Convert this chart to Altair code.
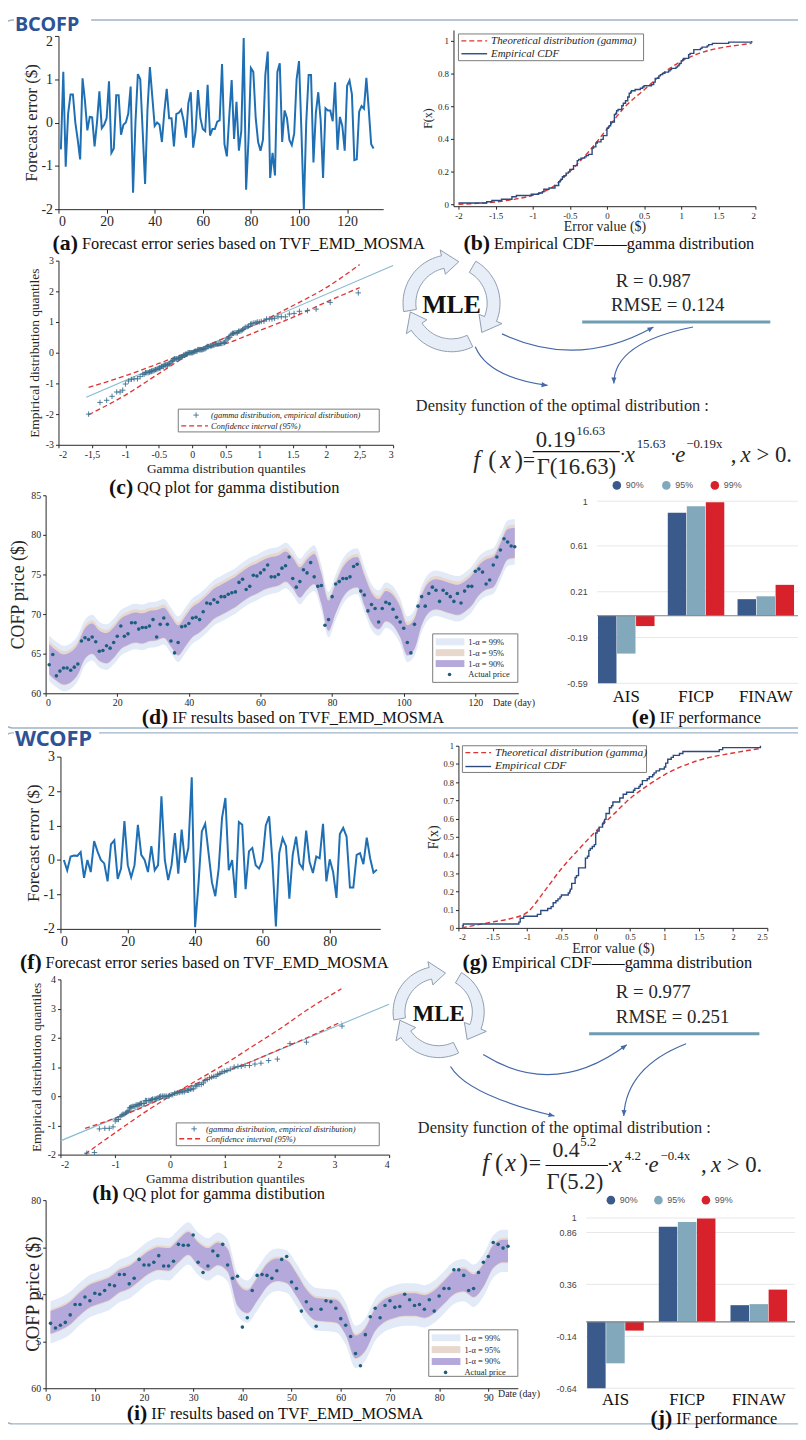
import math
import altair as alt
import pandas as pd

# ---------------------------------------------------------------- data
err_b = [-0.62, 1.17, -1.02, 0.20, 0.65, 0.65, 0.00, -0.40, -0.85, 1.02,
         0.50, -0.18, 0.13, 0.12, -0.55, 0.00, 0.72, -0.13, -0.05, 0.10,
         0.95, -0.70, -0.60, 0.63, 0.63, -0.28, -0.05, 0.00, 0.20, 0.83,
         -1.62, 0.00, 1.12, 1.00, -0.20, -1.42, 0.30, 1.28, 0.60, -0.08,
         0.00, -0.05, -0.45, 0.25, 0.78, 0.10, 0.10, -0.55, 0.20, 0.22,
         0.30, 0.05, -0.35, 0.45, 0.70, -0.58, -0.20, 0.75, 0.10, -0.15,
         -0.20, 0.87, -0.30, -0.15, -0.15, 0.02, 0.05, 1.35, -0.50, -0.78,
         0.15, 0.98, -0.38, 0.48, -0.65, -0.20, 1.95, -1.55, -0.40, 1.26,
         1.17, 0.10, -0.45, -0.65, -0.40, 1.10, 1.64, -1.28, -0.70, -1.22,
         1.17, 1.37, -0.45, 0.28, 0.10, -0.40, -0.52, -0.25, 1.00, 1.42,
         -0.20, -2.00, 0.00, 1.10, 1.10, -0.92, 0.22, 0.70, 0.05, -1.28,
         0.33, 0.28, 0.28, 0.03, 0.93, -0.63, 0.13, -0.08, -0.65, 0.85,
         0.97, 0.65, -0.87, -0.85, 0.25, 0.38, 0.32, 1.03, 0.30, -0.50,
         -0.60]
err_w = [0.00, -0.30, 0.10, 0.13, 0.12, 0.23, -0.52, 0.00, -0.35, 0.55,
         0.25, 0.00, -0.10, -0.62, 0.45, 0.57, -0.55, -0.25, 1.13, -0.15,
         -0.50, -0.15, 1.02, 0.15, 0.00, -0.35, 0.40, -0.30, -0.15, 1.85,
         0.00, -0.58, -0.15, 0.78, -0.40, 0.88, -0.08, 0.35, 2.40, -1.95,
         -0.70, 0.83, 1.05, 0.20, -0.65, -1.05, -0.25, 1.22, 1.80, -0.30,
         0.00, -1.10, 1.10, 1.02, -0.85, 0.25, 0.35, -0.15, -0.25, -0.02,
         1.00, 1.27, -0.10, -1.93, 0.20, 0.63, 0.40, -1.12, 0.15, 0.68,
         -0.10, -0.25, 0.85, -0.05, -0.38, 0.10, 0.05, 1.05, -0.62, 0.02,
         -0.35, -1.10, 0.75, 0.93, 0.68, -0.80, -0.80, 0.15, 0.20, -0.12,
         0.65, 0.05, -0.37, -0.28]

# gamma quantiles (x of the QQ plots), by rank
qq_b = [-1.55, -1.38, -1.28, -1.20, -1.13, -1.08, -1.04, -1.00,
        -0.955, -0.91, -0.87, -0.82, -0.78,
        -0.74, -0.72, -0.70, -0.68, -0.66, -0.64, -0.62, -0.61, -0.59, -0.57, -0.55, -0.53, -0.51, -0.49,
        -0.48, -0.46, -0.45, -0.43, -0.42, -0.40, -0.38, -0.37, -0.35, -0.34, -0.32, -0.30, -0.29, -0.27, -0.26,
        -0.24, -0.23, -0.21, -0.20, -0.19, -0.17, -0.16, -0.145, -0.13, -0.12, -0.105, -0.09, -0.08, -0.065,
        -0.05, -0.04, -0.025, -0.01, 0.00,
        0.015, 0.03, 0.04, 0.055, 0.07, 0.08, 0.095, 0.11, 0.12, 0.135, 0.15, 0.165, 0.175, 0.19, 0.205,
        0.22, 0.23, 0.245,
        0.27, 0.29, 0.31, 0.325, 0.345, 0.365, 0.385, 0.40, 0.42, 0.44, 0.46, 0.48, 0.50,
        0.52, 0.54, 0.56, 0.58, 0.60, 0.615, 0.635, 0.655, 0.675, 0.69, 0.71, 0.73, 0.75,
        0.77, 0.79, 0.82, 0.84, 0.87, 0.89, 0.92, 0.95, 0.97, 1.00,
        1.03, 1.07, 1.11, 1.15, 1.19, 1.23,
        1.28, 1.33, 1.39, 1.45,
        1.52, 1.60, 1.72, 1.85, 2.06, 2.48]
qq_w = [-1.52, -1.38, -1.29, -1.19, -1.11, -1.04, -1.00, -0.97,
        -0.94, -0.91, -0.88, -0.86, -0.84, -0.81, -0.79, -0.77, -0.75,
        -0.74, -0.72, -0.70, -0.68, -0.66, -0.64, -0.62, -0.60, -0.58, -0.56, -0.54, -0.52, -0.49,
        -0.47, -0.45, -0.43, -0.40, -0.38, -0.36, -0.34, -0.32, -0.29, -0.27, -0.25,
        -0.22, -0.19, -0.17, -0.14, -0.11, -0.09, -0.06, -0.03, -0.01,
        0.02, 0.05, 0.08, 0.11, 0.14, 0.17, 0.20, 0.23, 0.26, 0.29, 0.32, 0.34, 0.37, 0.40, 0.43, 0.46, 0.49,
        0.53, 0.57, 0.61, 0.64, 0.68, 0.72, 0.76, 0.80, 0.84, 0.87, 0.91, 0.95, 0.99,
        1.04, 1.10, 1.17, 1.24, 1.30, 1.37, 1.45,
        1.55, 1.66, 1.80, 1.96, 2.19, 2.49, 3.14]

# theoretical (gamma) CDF curves (b) and (g)
cdf_b_x = [-2.0, -1.75, -1.5, -1.25, -1.0, -0.75, -0.5, -0.25, 0.0, 0.25, 0.5, 0.75, 1.0, 1.25, 1.5, 1.75, 1.95]
cdf_b_f = [0.0, 0.005, 0.014, 0.03, 0.055, 0.10, 0.20, 0.32, 0.46, 0.60, 0.70, 0.80, 0.875, 0.925, 0.955, 0.973, 0.985]
cdf_w_x = [-1.95, -1.75, -1.5, -1.25, -1.0, -0.75, -0.5, -0.25, 0.0, 0.25, 0.5, 0.75, 1.0, 1.5, 2.0, 2.4]
cdf_w_f = [0.0, 0.015, 0.033, 0.05, 0.085, 0.20, 0.325, 0.43, 0.53, 0.62, 0.71, 0.78, 0.84, 0.92, 0.96, 0.985]

# QQ reference line and 95% confidence curves
fit_b_x = [-1.585, 3.0]
fit_b_y = [-1.45, 2.84]
ci_b_x = [-1.55, -1.0, -0.5, 0.0, 0.5, 1.0, 1.5, 2.0, 2.5]
ci_b_hi = [-2.02, -1.38, -0.68, 0.0, 0.5, 0.98, 1.53, 2.12, 2.87]
ci_b_lo = [-1.13, -0.75, -0.35, 0.05, 0.3, 0.72, 1.15, 1.65, 2.12]
fit_w_x = [-2.0, 4.0]
fit_w_y = [-1.53, 3.15]
ci_w_x = [-1.55, -1.0, -0.5, 0.0, 0.5, 1.0, 1.5, 2.0, 2.5, 3.13]
ci_w_hi = [-1.98, -1.25, -0.6, 0.0, 0.55, 1.1, 1.7, 2.3, 2.95, 3.68]
ci_w_lo = [-1.1, -0.75, -0.38, 0.05, 0.45, 0.84, 1.2, 1.6, 2.0, 2.55]

# actual prices and interval forecast centres
price_b = [63.6, 64.9, 62.2, 62.8, 63.2, 63.2, 62.9, 63.3, 63.7, 66.6,
           67.0, 66.8, 67.1, 66.5, 65.3, 65.4, 66.0, 65.7, 66.4, 67.2,
           68.5, 67.2, 67.5, 68.9, 68.9, 68.1, 68.3, 68.3, 68.5, 69.3,
           67.1, 68.7, 69.5, 68.7, 66.6, 65.1, 66.4, 68.4, 68.5, 68.8,
           69.5, 69.6, 69.3, 70.3, 71.4, 71.3, 71.8, 71.5, 72.2, 72.2,
           72.5, 72.7, 72.8, 74.0, 74.4, 73.1, 73.5, 74.9, 74.8, 75.2,
           75.6, 76.2, 74.7, 74.7, 75.0, 75.8, 76.1, 77.2, 74.5, 73.4,
           74.1, 75.6, 75.2, 76.5, 74.7, 73.5, 73.6, 68.6, 69.3, 72.2,
           73.8, 74.1, 74.5, 74.5, 74.7, 76.0, 76.3, 72.9, 72.4, 70.4,
           71.2, 70.7, 69.0, 70.7, 71.5, 71.3, 70.6, 69.6, 69.0, 68.2,
           66.4, 65.1, 68.7, 71.0, 72.2, 71.0, 72.6, 73.4, 73.0, 71.6,
           73.0, 72.6, 72.2, 71.6, 72.6, 71.4, 72.9, 73.5, 73.5, 75.4,
           75.7, 75.3, 73.8, 74.3, 76.2, 77.2, 78.1, 79.5, 79.1, 78.6,
           78.5]
band_b_day = [1, 3, 5, 7, 9, 11, 13, 15, 17, 19, 21, 23, 25, 27, 29, 31, 33, 35, 37, 39,
              41, 43, 45, 47, 49, 51, 53, 55, 57, 59, 61, 63, 65, 67, 69, 71, 73, 75, 77, 79,
              81, 83, 85, 87, 89, 91, 93, 95, 97, 99, 101, 103, 105, 107, 109, 111, 113, 115, 117, 119,
              121, 123, 125, 127, 129, 131]
band_b_mid = [64.3, 63.5, 63.0, 63.3, 64.3, 66.3, 66.9, 66.0, 65.7, 66.4,
              67.5, 68.0, 68.3, 68.2, 68.5, 68.6, 68.9, 67.8, 66.7, 67.8,
              69.0, 69.6, 70.4, 71.3, 71.8, 72.3, 72.8, 73.5, 74.1, 74.5,
              75.0, 75.3, 75.5, 76.0, 75.2, 74.0, 75.0, 75.7, 73.2, 69.8,
              72.0, 74.0, 75.0, 75.3, 73.0, 70.8, 70.0, 71.0, 70.5, 69.0,
              66.7, 67.5, 70.5, 72.1, 72.5, 72.3, 72.0, 71.8, 72.2, 73.0,
              74.3, 75.0, 75.3, 77.0, 78.8, 79.0]
band_b_hw = {"99%": (2.75, 3.0), "95%": (2.0, 2.3), "90%": (1.9, 1.9)}

price_w = [66.9, 66.4, 66.7, 67.0, 67.8, 68.9, 68.9, 69.7, 69.3, 70.1,
           70.0, 70.4, 71.0, 70.9, 72.1, 72.1, 71.1, 71.7, 73.7, 73.1,
           73.1, 73.4, 74.1, 73.0, 73.0, 73.5, 75.3, 75.2, 75.2, 76.3,
           73.4, 72.3, 73.0, 74.6, 74.1, 75.3, 73.1, 71.7, 71.9, 66.5,
           67.5, 70.4, 72.0, 72.1, 72.0, 71.7, 72.5, 73.7, 74.0, 71.3,
           70.6, 68.2, 69.2, 68.4, 66.6, 68.4, 69.3, 69.2, 68.5, 67.4,
           66.7, 65.5, 63.7, 62.4, 65.7, 67.6, 68.5, 67.5, 68.8, 69.3,
           68.6, 68.7, 70.0, 69.4, 68.8, 68.9, 68.4, 69.4, 68.2, 69.8,
           70.6, 70.6, 72.6, 72.6, 72.0, 70.4, 70.6, 72.3, 73.4, 74.0,
           75.5, 75.3, 74.9, 75.1]
band_w_day = [1, 3, 5, 7, 9, 11, 13, 15, 17, 19, 21, 23, 25, 27, 29, 31, 33, 35, 37, 39,
              41, 43, 45, 47, 49, 51, 53, 55, 57, 59, 61, 63, 65, 67, 69, 71, 73, 75, 77, 79,
              81, 83, 85, 87, 89, 91, 93, 94]
band_w_mid = [67.0, 67.4, 68.0, 69.0, 69.8, 70.2, 70.6, 71.4, 71.8, 72.6,
              73.4, 73.8, 73.7, 74.6, 75.4, 74.3, 73.7, 74.3, 73.6, 70.0,
              69.2, 70.5, 72.0, 72.6, 72.4, 71.0, 69.3, 68.4, 68.3, 68.2,
              66.9, 64.4, 65.2, 67.3, 68.3, 68.7, 68.9, 68.9, 68.7, 69.2,
              70.2, 71.2, 71.5, 70.9, 72.0, 74.0, 74.6, 74.6]
band_w_hw = {"99%": (2.25, 2.25), "95%": (1.3, 1.4), "90%": (1.2, 1.2)}

# interval forecast performance
metrics = ["AIS", "FICP", "FINAW"]
levels = ["90%", "95%", "99%"]
perf_b = {"90%": [-0.59, 0.90, 0.145], "95%": [-0.33, 0.955, 0.17], "99%": [-0.09, 0.99, 0.27]}
perf_w = {"90%": [-0.64, 0.915, 0.16], "95%": [-0.40, 0.96, 0.17], "99%": [-0.085, 0.995, 0.31]}
ticks_e = [-0.59, -0.19, 0.21, 0.61, 1.0]
ticks_j = [-0.64, -0.14, 0.36, 0.86, 1.0]

# ---------------------------------------------------------------- style
OFF = 8
W, H = 798, 1424
SERIF = "Liberation Serif"
SANS = "Liberation Sans"
INK = "#262626"
MINUS = "\u2212"
DASH = f"replace(format(datum.value, '~g'), '{MINUS}', '-')"
BAR_COLORS = ["#3A5A8C", "#82A8BC", "#D7222B"]
BAND_COLORS = {"99%": "#E2E9F7", "95%": "#E8D7CC", "90%": "#B5A8DB"}
RED = "#DE3434"
PLUS = "M-1,0L1,0M0,-1L0,1"
ONE = pd.DataFrame({"k": [0]})


def P(v):
    return v - OFF


def T(x, y, s, size, style="normal", weight="normal", align="left", color=INK,
      font=SERIF, angle=None, baseline="middle"):
    kw = dict(text=s, fontSize=size, fontStyle=style, fontWeight=weight, align=align,
              color=color, font=font, baseline=baseline)
    if angle is not None:
        kw["angle"] = angle
    return alt.Chart(ONE).mark_text(**kw).encode(x=alt.value(P(x)), y=alt.value(P(y)))


def HL(x1, x2, y, color, width=1.0, dash=None):
    kw = dict(color=color, strokeWidth=width)
    if dash:
        kw["strokeDash"] = dash
    return alt.Chart(ONE).mark_rule(**kw).encode(
        x=alt.value(P(x1)), x2=alt.value(P(x2)), y=alt.value(P(y)))


def RECT(x1, y1, x2, y2, fill="white", fill_opacity=1.0, stroke=None, width=1.0, radius=0):
    kw = dict(fill=fill, fillOpacity=fill_opacity)
    if stroke:
        kw["stroke"] = stroke
        kw["strokeWidth"] = width
    if radius:
        kw["cornerRadius"] = radius
    return alt.Chart(ONE).mark_rect(**kw).encode(
        x=alt.value(P(x1)), x2=alt.value(P(x2)), y=alt.value(P(y1)), y2=alt.value(P(y2)))


def SHAPE(path, fill=None, stroke=None, width=1.0):
    kw = dict(shape=path, size=4, opacity=1, strokeWidth=width)
    if fill:
        kw.update(filled=True, fill=fill)
    else:
        kw.update(filled=False)
    if stroke:
        kw["stroke"] = stroke
    return alt.Chart(ONE).mark_point(**kw).encode(x=alt.value(0), y=alt.value(0))


def DOT(x, y, color, size=60, shape="circle", filled=True, width=1.0):
    return alt.Chart(ONE).mark_point(shape=shape, size=size, filled=filled, color=color,
                                     opacity=1, strokeWidth=width).encode(
        x=alt.value(P(x)), y=alt.value(P(y)))


def path_of(points, close=True):
    s = "M" + "L".join(f"{P(x):.1f},{P(y):.1f}" for x, y in points)
    return s + ("Z" if close else "")


def xs(dom, a, b):
    return alt.Scale(domain=dom, range=[P(a), P(b)], nice=False, zero=False)


def ys(dom, bottom, top):
    return alt.Scale(domain=dom, range=[P(bottom), P(top)], nice=False, zero=False)


def xax(ypos, values, size, title=None, expr=DASH, **kw):
    return alt.Axis(orient="bottom", offset=P(ypos) - H, values=values, labelFontSize=size,
                    labelExpr=expr, title=title, **kw)


def yax(xpos, values, size, title=None, expr=DASH, **kw):
    return alt.Axis(orient="left", offset=-P(xpos), values=values, labelFontSize=size,
                    labelExpr=expr, title=title, **kw)


def frange(a, b, step):
    out, v = [], a
    while v <= b + 1e-9:
        out.append(round(v, 4))
        v += step
    return out


# ---------------------------------------------------------------- panels
def error_panel(err, xdom, x0, x1, ybot, ytop, ydom, yvals, xvals, top_shift=0):
    df = pd.DataFrame({"t": list(range(1, len(err) + 1)), "e": err})
    extra = {}
    if top_shift:
        extra["labelOffset"] = {"condition": {"test": f"datum.value == {ydom[1]}", "value": top_shift},
                                "value": 0}
    return alt.Chart(df).mark_line(color="#1F6FB4", strokeWidth=2).encode(
        x=alt.X("t:Q", scale=xs(xdom, x0, x1),
                axis=xax(ybot, xvals, 14, tickSize=4, labelPadding=2)),
        y=alt.Y("e:Q", scale=ys(ydom, ybot, ytop),
                axis=yax(x0, yvals, 14, title="Forecast error ($)", titleFontSize=17,
                         titlePadding=1, tickSize=4, labelPadding=2, **extra)))


def cdf_panel(err, cx, cf, xdom, x0, x1, ydom, ybot, ytop, xvals, yvals, lab, tsize, ftsize):
    X = alt.X("e:Q", scale=xs(xdom, x0, x1),
              axis=xax(ybot, xvals, lab, title="Error value ($)", titleFontSize=tsize,
                       titlePadding=0, tickSize=3, labelPadding=2))
    Y = alt.Y("F:Q", scale=ys(ydom, ybot, ytop),
              axis=yax(x0, yvals, lab, title="F(x)", titleFontSize=ftsize, titlePadding=3,
                       tickSize=3, labelPadding=2))
    theo = alt.Chart(pd.DataFrame({"e": cx, "F": cf})).mark_line(
        color=RED, strokeDash=[5, 3], strokeWidth=1.4, interpolate="monotone").encode(x=X, y=Y)
    emp = alt.Chart(pd.DataFrame({"e": err})).transform_window(
        F="cume_dist()", sort=[alt.SortField("e")]).mark_line(
        interpolate="step-after", color="#2B4A7E", strokeWidth=1.4).encode(x=X, y=Y)
    return alt.layer(theo, emp)


def qq_panel(err, qx, fx, fy, cix, cihi, cilo, xdom, x0, x1, ydom, ybot, ytop, xvals, yvals, xexpr):
    X = alt.X("q:Q", scale=xs(xdom, x0, x1),
              axis=xax(ybot, xvals, 10, title="Gamma distribution quantiles", expr=xexpr,
                       titleFontSize=13.5, titlePadding=2, tickSize=3, labelPadding=2))
    Y = alt.Y("v:Q", scale=ys(ydom, ybot, ytop),
              axis=yax(x0, yvals, 10, title="Empirical distribution quantiles",
                       titleFontSize=13.5, titlePadding=4, tickSize=3, labelPadding=2))
    pts = alt.Chart(pd.DataFrame({"q": qx, "v": sorted(err)})).mark_point(
        shape=PLUS, size=30, strokeWidth=0.9, color="#3D6F8E", opacity=1).encode(x=X, y=Y)
    fit = alt.Chart(pd.DataFrame({"q": fx, "v": fy})).mark_line(
        color="#86BAD0", strokeWidth=1.1).encode(x=X, y=Y)
    ci = pd.DataFrame({"q": cix + cix, "v": cihi + cilo,
                       "g": ["a"] * len(cix) + ["b"] * len(cix)})
    cil = alt.Chart(ci).mark_line(color=RED, strokeDash=[5, 3], strokeWidth=1.3,
                                  interpolate="monotone").encode(x=X, y=Y, detail="g:N")
    return alt.layer(fit, cil, pts)


def band_panel(price, bday, bmid, hw, xdom, x0, x1, ydom, ybot, ytop, xvals, yvals, ytitle, yexpr):
    X = alt.X("t:Q", scale=xs(xdom, x0, x1),
              axis=xax(ybot, xvals, 10, tickSize=3, labelPadding=1))
    ax = yax(x0, yvals, 10, title=ytitle, expr=yexpr, titleFontSize=18, titlePadding=3,
             tickSize=3, labelPadding=2)
    bands = []
    dfb = pd.DataFrame({"t": bday, "c": bmid})
    for lvl in ["99%", "95%", "90%"]:
        lo, hi = hw[lvl]
        bands.append(alt.Chart(dfb).transform_calculate(
            lo=f"datum.c - {lo}", hi=f"datum.c + {hi}").mark_area(
            color=BAND_COLORS[lvl], opacity=1, interpolate="monotone").encode(
            x=X, y=alt.Y("lo:Q", scale=ys(ydom, ybot, ytop), axis=ax), y2="hi:Q"))
    pts = alt.Chart(pd.DataFrame({"t": list(range(1, len(price) + 1)), "lo": price})).mark_circle(
        size=13, color="#1B5E7E", opacity=1).encode(
        x=X, y=alt.Y("lo:Q", scale=ys(ydom, ybot, ytop), axis=ax))
    return alt.layer(*bands, pts)


def bar_panel(perf, ticks, xa, xb, pin, gx0, gx1, ydom, ybot, ytop, labpad):
    rows = [{"m": m, "lvl": l, "v": perf[l][i]} for l in levels for i, m in enumerate(metrics)]
    Y = alt.Y("v:Q", scale=ys(ydom, ybot, ytop),
              axis=yax(gx0, ticks, 9, labelFont=SANS, domain=False, ticks=False, labelPadding=10,
                       labelColor="#444444",
                       expr=f"replace(format(datum.value, '.2~f'), '{MINUS}', '-')"))
    grid = alt.Chart(pd.DataFrame({"v": ticks})).mark_rule(color="#E8E8E8", strokeWidth=1).encode(
        y=Y, x=alt.value(P(gx0)), x2=alt.value(P(gx1)))
    bars = alt.Chart(pd.DataFrame(rows)).mark_bar().encode(
        x=alt.X("m:N", sort=metrics,
                scale=alt.Scale(domain=metrics, range=[P(xa), P(xb)], paddingInner=pin, paddingOuter=0),
                axis=alt.Axis(orient="bottom", offset=P(ybot) - H, title=None, domain=False,
                              ticks=False, labelFontSize=17, labelPadding=labpad, labelAngle=0,
                              labelColor="#111111")),
        xOffset=alt.XOffset("lvl:N", sort=levels, scale=alt.Scale(domain=levels, paddingInner=0.03)),
        y=Y, y2=alt.datum(0),
        color=alt.Color("lvl:N", scale=alt.Scale(domain=levels, range=BAR_COLORS), legend=None))
    zero = alt.Chart(ONE).mark_rule(color="#808080", strokeWidth=1.2).encode(
        y=alt.datum(0), x=alt.value(P(gx0)), x2=alt.value(P(gx1)))
    return alt.layer(grid, bars, zero)


# ---------------------------------------------------------------- decorations
def ring_arrow(cx, cy, R, r, a0, a1, tip):
    m = (R + r) / 2.0

    def pt(rad, ang):
        t = math.radians(ang)
        return (cx + rad * math.cos(t), cy - rad * math.sin(t))
    n = 24
    outer = [pt(R, a0 + (a1 - a0) * i / n) for i in range(n + 1)]
    head = [pt(R + 6, a1), pt(m, tip), pt(r - 6, a1)]
    inner = [pt(r, a1 + (a0 - a1) * i / n) for i in range(n + 1)]
    return path_of(outer + head + inner)


def curve_and_head(p0, c, p2, color="#4468A8"):
    cpath = f"M{P(p0[0]):.1f},{P(p0[1]):.1f}Q{P(c[0]):.1f},{P(c[1]):.1f} {P(p2[0]):.1f},{P(p2[1]):.1f}"
    dx, dy = p2[0] - c[0], p2[1] - c[1]
    n = math.hypot(dx, dy)
    ux, uy = dx / n, dy / n
    bx, by = p2[0] - 6 * ux, p2[1] - 6 * uy
    hp = path_of([p2, (bx - 2.6 * uy, by + 2.6 * ux), (bx + 2.6 * uy, by - 2.6 * ux)])
    return [SHAPE(cpath, stroke=color, width=1.2), SHAPE(hp, fill=color)]


def mle(cx, cy, R, r, fs):
    out = []
    for a0, a1, tip in [(190, 102, 80), (60, -22, -44), (-64, -146, -168)]:
        out.append(SHAPE(ring_arrow(cx, cy, R, r, a0, a1, tip), fill="#E7EEF8",
                         stroke="#8E9DAF", width=1))
    out.append(T(cx, cy + 2, "MLE", fs, weight="bold", align="center", color="#111111"))
    return out


def caption(x, y, letter, rest):
    wmap = {"a": .5, "b": .556, "c": .444, "d": .556, "e": .444, "f": .333,
            "g": .5, "h": .556, "i": .278, "j": .333}
    bw = (0.666 + wmap[letter]) * 22
    return [T(x, y, f"({letter})", 22, weight="bold", color="#111111"),
            T(x + bw + 4, y + 1, rest, 16.5, color="#111111")]


bar_legend = lambda xs_, y: sum([[DOT(x, y, c, size=75), T(x + 9, y, l, 9, font=SANS, color="#555555")]
                                 for x, c, l in zip(xs_, BAR_COLORS, levels)], [])

layers = []
# section frames and titles
layers += [RECT(1, 13, W + 30, 728, fill="white", fill_opacity=0, stroke="#9FB4C6", width=1.5, radius=12),
           RECT(1, 733, W + 30, 1431, fill="white", fill_opacity=0, stroke="#9FB4C6", width=1.5, radius=12),
           RECT(14, 8, 92, 26), RECT(14, 729, 100, 751),
           T(15, 18, "BCOFP", 20, weight="bold", font="Noto Sans", color="#2E5395"),
           T(15, 739, "WCOFP", 22, weight="bold", font="Noto Sans", color="#2E5395")]

# ---- BCOFP
layers.append(error_panel(err_b, [0, 135], 59, 387, 204, 29, [-2, 2], [-2, -1, 0, 1, 2], frange(0, 120, 20),
                          top_shift=6))
layers.append(cdf_panel(err_b, cdf_b_x, cdf_b_f, [-2.067, 2.0], 458, 763, [-0.012, 1.067], 201, 23,
                        frange(-2, 2, 0.5), frange(0, 1, 0.2), 9, 14, 12))
layers.append(qq_panel(err_b, qq_b, fit_b_x, fit_b_y, ci_b_x, ci_b_hi, ci_b_lo, [-2, 3], 59, 397,
                       [-3, 3], 442, 256, frange(-2, 3, 0.5), frange(-3, 3, 1),
                       f"datum.value == -1.5 ? '-1,5' : datum.value == 2.5 ? '2,5' : {DASH}"))
layers.append(band_panel(price_b, band_b_day, band_b_mid, band_b_hw, [0, 132], 46, 523.5, [60, 85], 693, 493,
                         frange(0, 120, 20), frange(60, 85, 5), "COFP price ($)", DASH))
layers.append(bar_panel(perf_b, ticks_e, 604, 802, 0.19, 603, 806, [-0.59, 1.0], 683, 499, 5))

# ---- WCOFP
layers.append(error_panel(err_w, [0, 95], 61, 384, 931, 757, [-2, 3], [-2, -1, 0, 1, 2, 3], frange(0, 80, 20)))
layers.append(cdf_panel(err_w, cdf_w_x, cdf_w_f, [-2.0, 2.5], 463, 775, [0, 1], 930, 746,
                        frange(-2, 2.5, 0.5), frange(0, 1, 0.1), 8.5, 14, 14))
layers.append(qq_panel(err_w, qq_w, fit_w_x, fit_w_y, ci_w_x, ci_w_hi, ci_w_lo, [-2, 4], 61, 393,
                       [-2, 4], 1159, 982, frange(-2, 4, 1), frange(-2, 4, 1), DASH))
layers.append(band_panel(price_w, band_w_day, band_w_mid, band_w_hw, [0, 96], 46, 523, [60, 80], 1395, 1205,
                         frange(0, 90, 10), frange(60, 80, 5), None,
                         "datum.value == 60 || datum.value == 80 ? format(datum.value, '~g') : "
                         "slice(format(datum.value, '~g'), 1)"))
layers.append(bar_panel(perf_w, ticks_j, 593, 795, 0.21, 592, 803, [-0.64, 1.0], 1395, 1223, 3))

# ---- in-plot legends
for (bx0, by0, bx1, by1, lx, ty1, ty2, fs) in [(463, 27, 650, 54, 466, 34, 47, 11),
                                                (467, 746, 653, 773, 470, 753, 767, 11.5)]:
    layers += [RECT(bx0, by0, bx1, by1, stroke="#7A7A7A", width=1),
               HL(lx, lx + 26, ty1, RED, 1.4, [5, 3]), HL(lx, lx + 26, ty2, "#2B4A7E", 1.4),
               T(lx + 30, ty1, "Theoretical distribution (gamma)", fs, style="italic"),
               T(lx + 30, ty2, "Empirical CDF", fs, style="italic")]
for (bx0, by0, bx1, by1, px_, py1, py2, tx) in [(180, 406, 383, 429, 198, 412, 423, 213),
                                                (178, 1127, 383, 1150, 196, 1133, 1143, 208)]:
    layers += [RECT(bx0, by0, bx1, by1, stroke="#7A7A7A", width=1),
               DOT(px_, py1, "#3D6F8E", size=30, shape=PLUS, filled=False, width=0.9),
               T(tx, py1, "(gamma distribution, empirical distribution)", 8.5, style="italic"),
               HL(bx0 + 3, tx - 3, py2, RED, 1.3, [5, 3]),
               T(tx, py2, "Confidence interval (95%)", 8.5, style="italic")]
for (bx0, by0, bx1, by1, ys_) in [(437, 633, 523, 682, [641, 652, 663, 674]),
                                  (433, 1336, 523, 1383, [1344, 1356, 1368, 1379])]:
    layers.append(RECT(bx0, by0, bx1, by1, stroke="#7A7A7A", width=1))
    for yy, lvl in zip(ys_[:3], ["99%", "95%", "90%"]):
        layers += [RECT(bx0 + 3, yy - 3.5, bx0 + 32, yy + 3.5, fill=BAND_COLORS[lvl]),
                   T(bx0 + 36, yy, f"1-\u03b1 = {lvl}", 8.5)]
    layers += [DOT(bx0 + 17, ys_[3], "#1B5E7E", size=13),
               T(bx0 + 36, ys_[3], "Actual price", 8.5)]

# ---- axis extras
layers += [T(498, 703, "Date (day)", 10), T(503, 1401, "Date (day)", 10),
           T(33, 1300, "COFP price ($)", 19, angle=270, align="center")]

# ---- MLE diagrams, statistics and density functions
layers += mle(456, 299, 49, 36, 26)
layers += mle(443, 1015, 46, 34, 23)
layers += curve_and_head((507, 330), (584, 366), (660, 323))
layers += curve_and_head((480, 343), (493, 374), (553, 382))
layers += curve_and_head((700, 323), (620, 339), (620, 380))
layers += curve_and_head((488, 1058), (559.5, 1103), (633, 1048))
layers += curve_and_head((455, 1070), (472.5, 1099), (560, 1120))
layers += curve_and_head((693, 1047), (632.5, 1070.5), (630, 1120))
layers += [T(622, 277, "R = 0.987", 19), T(617, 301, "RMSE = 0.124", 19), HL(588, 778, 318, "#6E9DB3", 3),
           T(622, 995, "R = 0.977", 19), T(622, 1020, "RMSE = 0.251", 19), HL(595, 767, 1037, "#6E9DB3", 3),
           T(420, 403, "Density function of the optimal distribution :", 16.5),
           T(422, 1132, "Density function of the optimal distribution :", 16.5)]

# density formula, BCOFP
layers += [T(478, 457, "f", 25, style="italic"), T(493, 457, "(", 25), T(505, 457, "x", 25, style="italic"),
           T(520, 457, ")", 25), T(528, 457, "=", 22),
           T(541, 437, "0.19", 23), T(582, 428, "16.63", 13),
           HL(538, 626, 449, "#111111", 1.2), T(542, 465, "\u0393(16.63)", 23),
           T(626, 452, "\u00b7", 18), T(631, 452, "x", 23, style="italic"), T(643, 441, "15.63", 13),
           T(677, 452, "\u00b7", 18), T(682, 452, "e", 23, style="italic"), T(693, 441, "\u22120.19x", 13),
           T(738, 452, ",", 23), T(748, 452, "x", 23, style="italic"), T(764, 452, "> 0.", 23)]
# density formula, WCOFP
layers += [T(487, 1168, "f", 25, style="italic"), T(500, 1168, "(", 25), T(510, 1168, "x", 25, style="italic"),
           T(525, 1168, ")", 25), T(534, 1168, "=", 22),
           T(558, 1154, "0.4", 22), T(586, 1146, "5.2", 13),
           HL(551, 614, 1170, "#111111", 1.2), T(552, 1187, "\u0393(5.2)", 23),
           T(613, 1170, "\u00b7", 18), T(618, 1170, "x", 23, style="italic"), T(631, 1160, "4.2", 13),
           T(650, 1170, "\u00b7", 18), T(655, 1170, "e", 23, style="italic"), T(667, 1160, "\u22120.4x", 13),
           T(708, 1170, ",", 23), T(718, 1170, "x", 23, style="italic"), T(734, 1170, "> 0.", 23)]

# bar legends
layers += bar_legend([623, 673, 722], 483)
layers += bar_legend([617, 665, 713], 1205)

# captions
for args in [(53, 238, "a", "Forecast error series based on TVF_EMD_MOSMA"),
             (468, 238, "b", "Empirical CDF\u2014\u2014gamma distribution"),
             (110, 485, "c", "QQ plot for gamma distibution"),
             (143, 717, "d", "IF results based on TVF_EMD_MOSMA"),
             (638, 717, "e", "IF performance"),
             (20, 965, "f", "Forecast error series based on TVF_EMD_MOSMA"),
             (467, 965, "g", "Empirical CDF\u2014\u2014gamma distribution"),
             (93, 1198, "h", "QQ plot for gamma distibution"),
             (128, 1420, "i", "IF results based on TVF_EMD_MOSMA"),
             (657, 1425, "j", "IF performance")]:
    layers += caption(*args)

chart = alt.layer(*layers).resolve_scale(
    x="independent", y="independent", color="independent", xOffset="independent"
).properties(
    width=W, height=H, padding=0, autosize=alt.AutoSizeParams(type="none")
).configure_view(stroke=None).configure_axis(
    labelFont=SERIF, titleFont=SERIF, labelColor=INK, titleColor=INK, domainColor=INK,
    tickColor=INK, titleFontWeight="normal", grid=False, domainWidth=1, tickWidth=1
)

chart.save("out.html", embed_options={"renderer": "svg", "actions": False})
